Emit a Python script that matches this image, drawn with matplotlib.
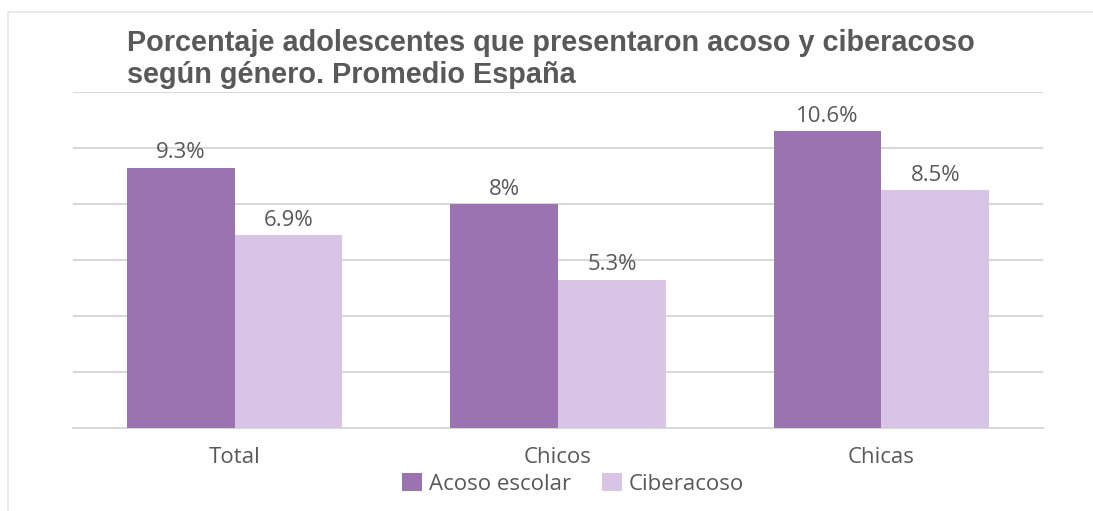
import numpy as np
import matplotlib.pyplot as plt
from matplotlib.patches import Rectangle

# %% Data
categories = ['Total', 'Chicos', 'Chicas']
acoso_escolar = [9.3, 8.0, 10.6]
ciberacoso = [6.9, 5.3, 8.5]
labels_acoso = ['9.3%', '8%', '10.6%']
labels_ciber = ['6.9%', '5.3%', '8.5%']
series_names = ['Acoso escolar', 'Ciberacoso']

# %% Style
dark = '#9b73b0'
light = '#d8c4e4'
grey_txt = '#595959'
grid_col = '#d9d9d9'
lab_font = 'Open Sans'

fig = plt.figure(figsize=(10.93, 5.11), dpi=100)
ax = fig.add_axes([0.0668, 0.1624, 0.8875, 0.6575])

# light frame around chart
fig.patches.append(Rectangle((8 / 1093, -0.1), 1.2, 1 - 12 / 511 + 0.1,
                             transform=fig.transFigure, fill=False,
                             edgecolor='#e6e6e6', linewidth=1.2))

x = np.arange(len(categories))
w = 1 / 3
b1 = ax.bar(x - w / 2, acoso_escolar, w, color=dark, label=series_names[0], zorder=3)
b2 = ax.bar(x + w / 2, ciberacoso, w, color=light, label=series_names[1], zorder=3)

ax.bar_label(b1, labels=labels_acoso, padding=3, fontsize=16, color=grey_txt,
             family=lab_font)
ax.bar_label(b2, labels=labels_ciber, padding=3, fontsize=16, color=grey_txt,
             family=lab_font)

ax.set_xlim(-0.5, 2.5)
ax.set_ylim(0, 12)
ax.set_yticks(np.arange(0, 13, 2))
ax.yaxis.grid(True, color=grid_col, linewidth=1.5, zorder=0)
ax.tick_params(axis='y', left=False, labelleft=False)
ax.tick_params(axis='x', bottom=False, pad=10)
ax.set_xticks(x)
ax.set_xticklabels(categories, fontsize=16, color=grey_txt, family=lab_font)
for s in ['top', 'right', 'left']:
    ax.spines[s].set_visible(False)
ax.spines['bottom'].set_color(grid_col)
ax.spines['bottom'].set_linewidth(1.5)

fig.text(127 / 1093, 1 - 29 / 511,
         'Porcentaje adolescentes que presentaron acoso y ciberacoso\nsegún género. Promedio España',
         fontsize=20.8, fontweight='bold', color=grey_txt, family='Liberation Sans',
         va='top', ha='left', linespacing=1.2)

fig.legend(loc='center', bbox_to_anchor=(573 / 1093, 1 - 484 / 511), ncol=2,
           frameon=False, prop={'family': lab_font, 'size': 16},
           labelcolor=grey_txt, handlelength=0.9, handleheight=0.9,
           handletextpad=0.3, columnspacing=1.4, borderpad=0.1)

fig.savefig('out.png', dpi=100)
